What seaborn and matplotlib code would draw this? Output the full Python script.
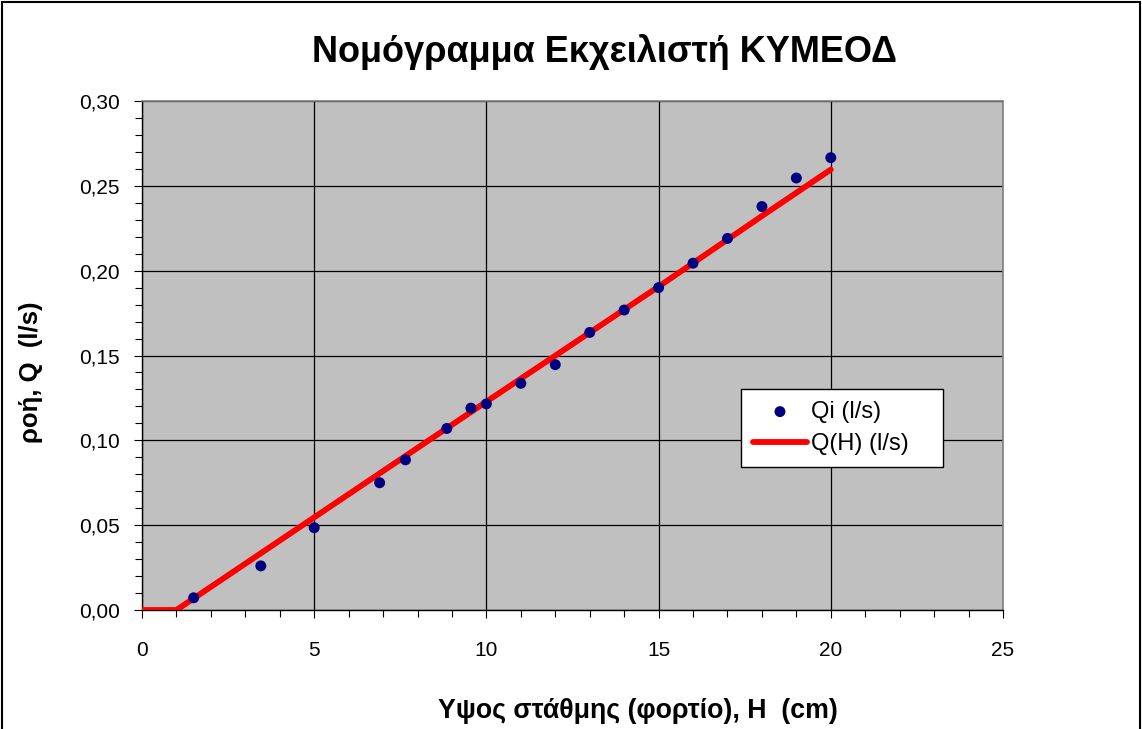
import matplotlib
matplotlib.use("Agg")
import matplotlib.pyplot as plt
import seaborn as sns
import pandas as pd
from matplotlib.ticker import MultipleLocator, FixedLocator, FixedFormatter
from matplotlib.lines import Line2D

# ---- data ----
H_obs = [1.5, 3.45, 5.0, 6.9, 7.65, 8.85, 9.55, 10.0, 11.0, 12.0, 13.0, 14.0, 15.0, 16.0, 17.0, 18.0, 19.0, 20.0]
Q_obs = [0.0072, 0.026, 0.0485, 0.075, 0.0885, 0.107, 0.119, 0.1215, 0.1336, 0.1446,
         0.1636, 0.1768, 0.190, 0.2044, 0.219, 0.2378, 0.2546, 0.2666]
H_fit = [0, 1, 5, 10, 15, 18, 20]
Q_fit = [0.0, 0.0, 0.0546, 0.1228, 0.1906, 0.2322, 0.2596]
x_ticks = [0, 5, 10, 15, 20, 25]
y_ticks = [0.00, 0.05, 0.10, 0.15, 0.20, 0.25, 0.30]
y_tick_labels = ["0,00", "0,05", "0,10", "0,15", "0,20", "0,25", "0,30"]
title = "Νομόγραμμα Εκχειλιστή ΚΥΜΕΟΔ"
xlabel = "Υψος στάθμης (φορτίο), Η  (cm)"
ylabel = "ροή, Q  (l/s)"
obs_label = "Qi (l/s)"
fit_label = "Q(H) (l/s)"

sns.set_style("white")
plt.rcParams["font.family"] = ["Liberation Sans", "DejaVu Sans"]
for k in ["text.color", "axes.labelcolor", "xtick.color", "ytick.color"]:
    plt.rcParams[k] = "black"

fig = plt.figure(figsize=(11.42, 7.29), dpi=100)
ax = fig.add_axes([142 / 1142, 1 - 610 / 729, 861 / 1142, 509 / 729])
ax.set_facecolor("#C0C0C0")

df_obs = pd.DataFrame({"H": H_obs, "Q": Q_obs})
df_fit = pd.DataFrame({"H": H_fit, "Q": Q_fit})

sns.lineplot(data=df_fit, x="H", y="Q", ax=ax, color="#FF0000", linewidth=4.2,
             label=fit_label, zorder=3, solid_capstyle="round")
sns.scatterplot(data=df_obs, x="H", y="Q", ax=ax, color="#000080", s=62,
                edgecolor="none", label=obs_label, zorder=4)

ax.set_xlim(0, 25)
ax.set_ylim(0, 0.30)
ax.xaxis.set_major_locator(FixedLocator(x_ticks))
ax.xaxis.set_minor_locator(MultipleLocator(1))
ax.yaxis.set_major_locator(FixedLocator(y_ticks))
ax.yaxis.set_major_formatter(FixedFormatter(y_tick_labels))
ax.yaxis.set_minor_locator(MultipleLocator(0.01))
ax.grid(True, which="major", color="black", linewidth=0.9)
ax.set_axisbelow(True)

ax.tick_params(axis="x", which="major", direction="out", length=6, width=0.8,
               color="black", labelsize=15, pad=16, bottom=True)
ax.tick_params(axis="x", which="minor", direction="out", length=5, width=0.8,
               color="black", bottom=True)
ax.tick_params(axis="y", which="major", direction="out", length=6, width=0.8,
               color="black", labelsize=15, pad=10, left=True)
ax.tick_params(axis="y", which="minor", direction="out", length=5, width=0.8,
               color="black", left=True)
for s in ["top", "right"]:
    ax.spines[s].set_color("#808080")
    ax.spines[s].set_linewidth(1.2)
for s in ["left", "bottom"]:
    ax.spines[s].set_color("black")
    ax.spines[s].set_linewidth(1.0)

ax.set_xlabel(xlabel, fontsize=19.3, fontweight="bold")
ax.xaxis.label.set_va("center")
ax.xaxis.set_label_coords((638 - 142) / 861, (610 - 711) / 509)
ax.set_ylabel(ylabel, fontsize=18.5, fontweight="bold")
ax.yaxis.label.set_va("center")
ax.yaxis.set_label_coords((31 - 142) / 861, (610 - 372) / 509)
fig.text(605 / 1142, 1 - 52 / 729, title, ha="center", va="center", fontsize=26, fontweight="bold")

handles, labels = ax.get_legend_handles_labels()
order = [labels.index(obs_label), labels.index(fit_label)]
leg_x0 = (741 - 142) / 861
leg_top = (610 - 389) / 509
leg_w = 202 / 861
leg_h = 83 / 509
leg = ax.legend([handles[i] for i in order], [labels[i] for i in order],
                loc="upper left", bbox_to_anchor=(leg_x0, leg_top - leg_h, leg_w, leg_h),
                mode="expand", borderaxespad=0, fontsize=17,
                frameon=True, fancybox=False, framealpha=1, edgecolor="black",
                handlelength=2.3, handletextpad=0.15, borderpad=0.5, labelspacing=0.45)
leg.get_frame().set_linewidth(1.0)

# figure frame (top, left, right)
for xs, ys in [([0.002, 0.002], [0, 0.997]), ([0.002, 0.998], [0.997, 0.997]), ([0.998, 0.998], [0, 0.997])]:
    fig.add_artist(Line2D(xs, ys, transform=fig.transFigure, color="black", linewidth=1.5))

fig.savefig("out.png", dpi=100)
